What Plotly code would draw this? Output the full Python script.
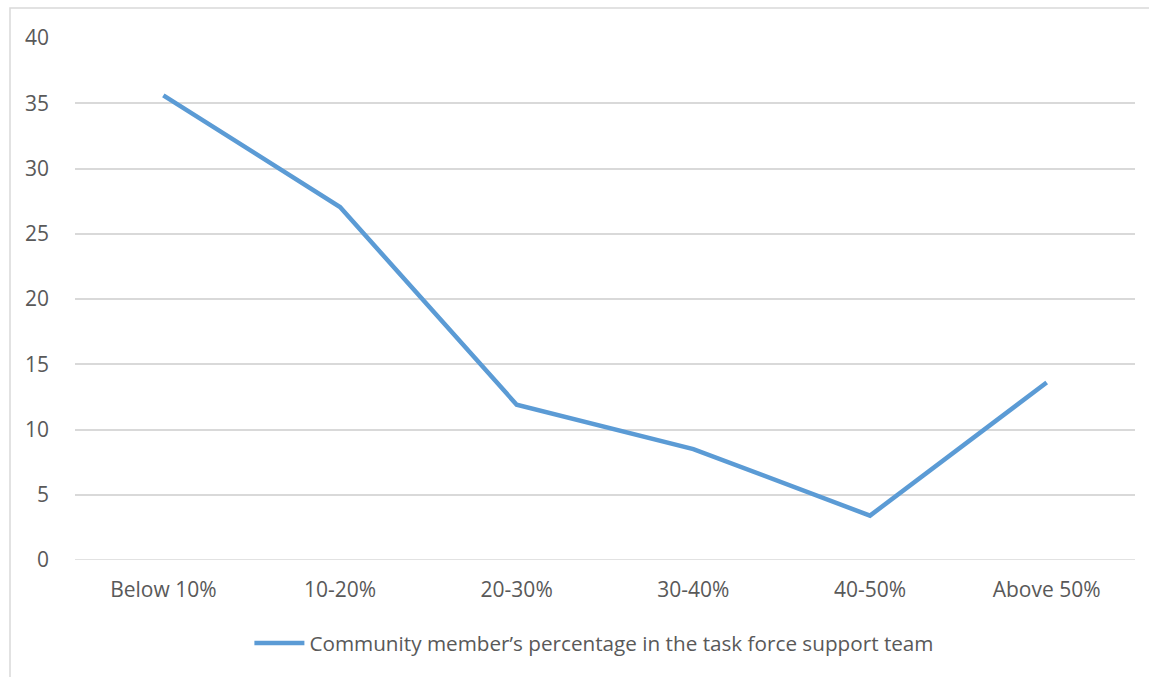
import plotly.graph_objects as go

categories = ["Below 10%", "10-20%", "20-30%", "30-40%", "40-50%", "Above 50%"]
values = [35.6, 27.05, 11.9, 8.5, 3.4, 13.6]
series_name = "Community member’s percentage in the task force support team"
y_ticks = [0, 5, 10, 15, 20, 25, 30, 35, 40]

FONT = "Open Sans"
TXT = "#595959"

fig = go.Figure()
fig.add_trace(go.Scatter(
    x=categories, y=values, mode="lines", name=series_name,
    line=dict(color="#5b9bd5", width=4.5),
))

W, H = 1149, 677
L, R, T, B = 75, 14, 38, 117
pw, ph = W - L - R, H - T - B

def px2x(px):
    return (px - L) / pw

def py2y(py):
    return (H - B - py) / ph

fig.add_shape(type="rect", xref="paper", yref="paper",
              x0=px2x(10), x1=px2x(1170), y0=py2y(700), y1=py2y(8),
              line=dict(color="#d9d9d9", width=1.5), fillcolor="rgba(0,0,0,0)",
              layer="below")

fig.update_layout(
    width=W, height=H,
    margin=dict(l=L, r=R, t=T, b=B),
    paper_bgcolor="white", plot_bgcolor="white",
    font=dict(family=FONT, color=TXT, size=21),
    showlegend=True,
    legend=dict(orientation="h", x=0.49, xanchor="center", y=py2y(643), yanchor="middle",
                font=dict(family=FONT, size=20.7, color=TXT), itemwidth=50),
    xaxis=dict(type="category", range=[-0.5, 5.5], showgrid=False, showline=False,
               zeroline=False, ticks="", ticklabelstandoff=15,
               tickfont=dict(family=FONT, size=21, color=TXT)),
    yaxis=dict(range=[0, 40], tickvals=y_ticks, showgrid=True, gridcolor="#d9d9d9",
               gridwidth=1.5, zeroline=False, showline=False, ticks="",
               ticklabelstandoff=25, tickfont=dict(family=FONT, size=21, color=TXT)),
)
fig.add_hline(y=0, line=dict(color="#d9d9d9", width=1.5), layer="below")

fig.write_html("out.html")
